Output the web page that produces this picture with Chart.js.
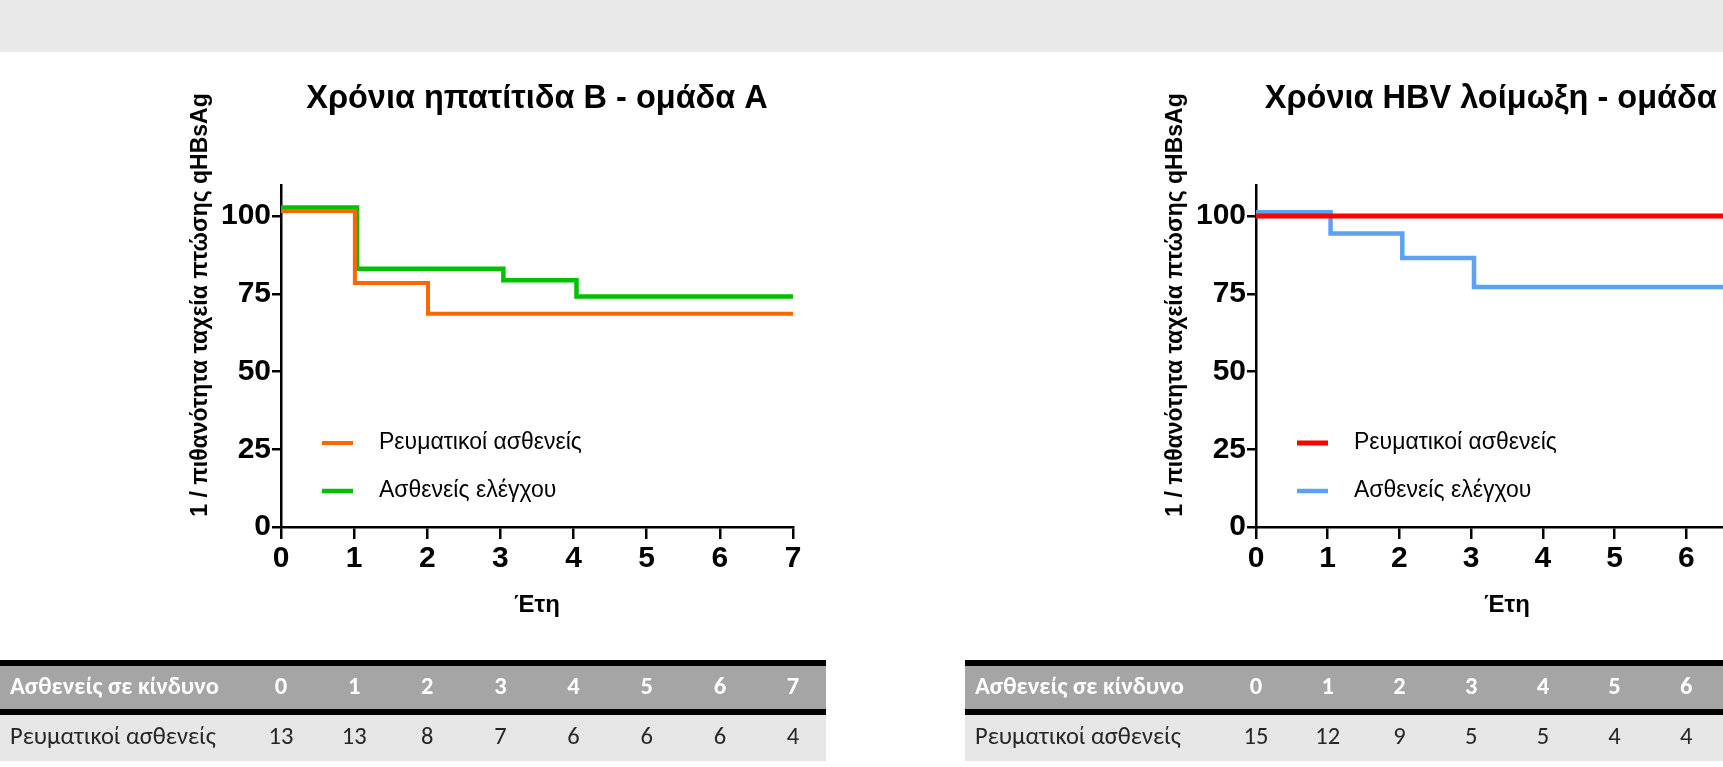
<!DOCTYPE html>
<html lang="el">
<head>
<meta charset="UTF-8">
<title>Χρόνια ηπατίτιδα Β / HBV λοίμωξη</title>
<script src="https://cdn.jsdelivr.net/npm/chart.js"></script>
<style>
    html, body {
        margin: 0;
        padding: 0;
        width: 1723px;
        height: 767px;
        overflow: hidden;
        background: #ffffff;
    }
    .band {
        position: absolute;
        left: 0;
        top: 0;
        width: 1723px;
        height: 52px;
        background: #e9e9e9;
    }
    .panel {
        position: absolute;
        top: 0;
        width: 880px;
        height: 767px;
    }
    #panelA { left: 0; }
    #panelB { left: 965px; }
</style>
</head>
<body>
<div class="band"></div>
<div class="panel" id="panelA"><canvas id="chartA" width="880" height="767"></canvas></div>
<div class="panel" id="panelB"><canvas id="chartB" width="880" height="767"></canvas></div>

<script>
    // common axis / text data
    var years = [0, 1, 2, 3, 4, 5, 6, 7];
    var yTickValues = [0, 25, 50, 75, 100];
    var seriesNames = ['Ρευματικοί ασθενείς', 'Ασθενείς ελέγχου'];
    var yTitle = '1 / πιθανότητα ταχεία πτώσης qHBsAg';
    var xTitle = 'Έτη';
    var tableHeader = 'Ασθενείς σε κίνδυνο';

    // group A
    var titleA = 'Χρόνια ηπατίτιδα Β - ομάδα Α';
    var rheumA_x = [0, 1.01, 2.01, 7];
    var rheumA_y = [101.6, 78.5, 68.6, 68.6];
    var controlA_x = [0, 1.04, 3.04, 4.04, 7];
    var controlA_y = [102.8, 83.1, 79.4, 74.1, 74.1];
    var atRiskA = [13, 13, 8, 7, 6, 6, 6, 4];

    // group B
    var titleB = 'Χρόνια HBV λοίμωξη - ομάδα Β';
    var rheumB_x = [0, 7];
    var rheumB_y = [100, 100];
    var controlB_x = [0, 1.04, 2.04, 3.04, 7];
    var controlB_y = [101.2, 94.4, 86.5, 77.2, 77.2];
    var atRiskB = [15, 12, 9, 5, 5, 4, 4, null];

    var chartFont = "'Liberation Sans', Arial, sans-serif";
    var tableFont = "Carlito, 'Liberation Sans Narrow', 'DejaVu Sans Condensed', sans-serif";

    function toPoints(xs, ys) {
        return xs.map(function (x, i) { return { x: x, y: ys[i] }; });
    }

    // title, y title, legend and at-risk table
    var panelDecor = {
        id: 'panelDecor',
        afterDraw: function (chart, args, opts) {
            var ctx = chart.ctx;
            var area = chart.chartArea;
            var xs = chart.scales.x;
            ctx.save();

            // title
            ctx.fillStyle = '#000';
            ctx.textAlign = 'center';
            ctx.textBaseline = 'middle';
            ctx.font = 'bold 32.5px ' + chartFont;
            ctx.fillText(opts.title, (area.left + area.right) / 2, area.top - 86);

            // y axis title
            ctx.save();
            ctx.translate(area.left - 80, area.top + 120);
            ctx.rotate(-Math.PI / 2);
            ctx.font = 'bold 23px ' + chartFont;
            ctx.fillText(yTitle, 0, 0);
            ctx.restore();

            // legend inside plot
            chart.data.datasets.forEach(function (ds, i) {
                var y = area.top + 258 + i * 48;
                ctx.strokeStyle = ds.borderColor;
                ctx.lineWidth = ds.borderWidth;
                ctx.beginPath();
                ctx.moveTo(area.left + 41, y);
                ctx.lineTo(area.left + 72, y);
                ctx.stroke();
                ctx.fillStyle = '#000';
                ctx.textAlign = 'left';
                ctx.font = '23px ' + chartFont;
                ctx.fillText(ds.label, area.left + 98, y);
            });

            // at-risk table
            var w = opts.tableWidth;
            ctx.fillStyle = '#000';
            ctx.fillRect(0, 660, w, 6);
            ctx.fillStyle = '#a5a5a5';
            ctx.fillRect(0, 666, w, 43);
            ctx.fillStyle = '#000';
            ctx.fillRect(0, 709, w, 6);
            ctx.fillStyle = '#e6e6e6';
            ctx.fillRect(0, 715, w, 46);

            ctx.textBaseline = 'middle';
            ctx.font = 'bold 24.5px ' + tableFont;
            ctx.fillStyle = '#fff';
            ctx.textAlign = 'left';
            ctx.fillText(tableHeader, 10, 688);
            ctx.textAlign = 'center';
            years.forEach(function (v) {
                ctx.fillText(String(v), xs.getPixelForValue(v), 688);
            });

            ctx.font = '24.5px ' + tableFont;
            ctx.fillStyle = '#262626';
            ctx.textAlign = 'left';
            ctx.fillText(seriesNames[0], 10, 738);
            ctx.textAlign = 'center';
            opts.atRisk.forEach(function (n, i) {
                if (n === null) return;
                ctx.fillText(String(n), xs.getPixelForValue(years[i]), 738);
            });

            ctx.restore();
        }
    };

    function makeChart(id, title, padLeft, sets, atRisk) {
        var ctx = document.getElementById(id).getContext('2d');
        return new Chart(ctx, {
            type: 'line',
            data: {
                datasets: sets.map(function (s) {
                    return {
                        label: s.label,
                        data: s.data,
                        borderColor: s.color,
                        borderWidth: s.width,
                        stepped: 'before',
                        pointRadius: 0,
                        fill: false,
                        borderJoinStyle: 'miter',
                        borderCapStyle: 'butt'
                    };
                })
            },
            options: {
                responsive: false,
                animation: false,
                layout: { padding: { left: padLeft, right: 87, top: 185, bottom: 147 } },
                plugins: {
                    legend: { display: false },
                    tooltip: { enabled: false },
                    panelDecor: { title: title, atRisk: atRisk, tableWidth: 826 }
                },
                scales: {
                    x: {
                        type: 'linear',
                        min: 0,
                        max: 7,
                        afterBuildTicks: function (s) { s.ticks = years.map(function (v) { return { value: v }; }); },
                        afterFit: function (s) { s.height = 93; },
                        grid: { drawOnChartArea: false, drawTicks: true, tickLength: 12, color: '#000', lineWidth: 2.5 },
                        border: { display: true, color: '#000', width: 2.5 },
                        ticks: {
                            color: '#000',
                            padding: 2,
                            maxRotation: 0,
                            autoSkip: false,
                            font: { family: chartFont, size: 30, weight: 'bold' }
                        },
                        title: {
                            display: true,
                            text: xTitle,
                            color: '#000',
                            padding: { top: 0, bottom: 0 },
                            font: { family: chartFont, size: 24, weight: 'bold' }
                        }
                    },
                    y: {
                        type: 'linear',
                        min: 0,
                        max: 110,
                        afterBuildTicks: function (s) { s.ticks = yTickValues.map(function (v) { return { value: v }; }); },
                        afterFit: function (s) { s.width = 60; },
                        grid: { drawOnChartArea: false, drawTicks: true, tickLength: 9, color: '#000', lineWidth: 2.5 },
                        border: { display: true, color: '#000', width: 2.5 },
                        ticks: {
                            color: '#000',
                            padding: 1,
                            font: { family: chartFont, size: 30, weight: 'bold' }
                        }
                    }
                }
            },
            plugins: [panelDecor]
        });
    }

    makeChart('chartA', titleA, 221, [
        { label: seriesNames[0], data: toPoints(rheumA_x, rheumA_y), color: '#ff6600', width: 4 },
        { label: seriesNames[1], data: toPoints(controlA_x, controlA_y), color: '#00c000', width: 4.5 }
    ], atRiskA);

    makeChart('chartB', titleB, 231, [
        { label: seriesNames[0], data: toPoints(rheumB_x, rheumB_y), color: '#ff0000', width: 5 },
        { label: seriesNames[1], data: toPoints(controlB_x, controlB_y), color: '#5aa2f5', width: 4.5 }
    ], atRiskB);
</script>
</body>
</html>
